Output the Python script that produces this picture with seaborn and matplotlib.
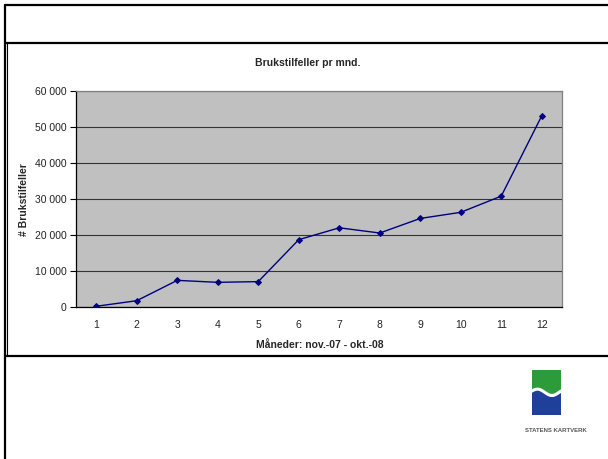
import matplotlib
matplotlib.use("Agg")
import matplotlib.pyplot as plt
import seaborn as sns
import numpy as np
import pandas as pd
from matplotlib.lines import Line2D
from matplotlib.patches import Rectangle, Polygon
from matplotlib.ticker import FuncFormatter, FixedLocator

# ---- data ----
months = [1, 2, 3, 4, 5, 6, 7, 8, 9, 10, 11, 12]
cases = [200, 1750, 7400, 6850, 7050, 18700, 22000, 20550, 24600, 26300, 30800, 53100]
title = "Brukstilfeller pr mnd."
xlabel = "Måneder: nov.-07 - okt.-08"
ylabel = "# Brukstilfeller"
logo_text = "STATENS KARTVERK"

sns.set_theme(style="white")
plt.rcParams['font.family'] = ['Liberation Sans', 'DejaVu Sans']

W, H = 608, 459
fig = plt.figure(figsize=(W / 100, H / 100), dpi=100)
fig.patch.set_facecolor("white")

def fx(px):
    return px / W

def fy(py):
    return 1 - py / H

ax = fig.add_axes([fx(76), fy(307), fx(562) - fx(76), fy(91) - fy(307)])
ax.set_facecolor("#c0c0c0")

df = pd.DataFrame({"month": months, "cases": cases})
sns.lineplot(data=df, x="month", y="cases", ax=ax, color="#000080", lw=1.0,
             marker="D", markersize=3, markeredgecolor="#000080", zorder=3)

ax.set_xlim(0.5, 12.5)
ax.set_ylim(0, 60000)
ax.set_yticks(np.arange(0, 60001, 10000))
ax.yaxis.set_major_formatter(FuncFormatter(lambda v, p: f"{int(v):,}".replace(",", " ")))
ax.set_xticks(months)
ax.set_xticklabels([str(m) for m in months])
ax.xaxis.set_minor_locator(FixedLocator(np.arange(0.5, 13, 1)))
ax.tick_params(axis="x", which="major", length=0, labelsize=7.5, pad=9, colors="black")
ax.tick_params(axis="x", which="minor", length=4, width=0.8, direction="out", color="black")
ax.tick_params(axis="y", which="major", length=4, width=0.8, direction="out", labelsize=7.5,
               pad=3, colors="black", left=True)
for lab in ax.get_xticklabels() + ax.get_yticklabels():
    lab.set_color("#222222")

ax.grid(axis="y", color="#333333", lw=0.8)
ax.grid(axis="x", visible=False)
ax.set_axisbelow(True)
for s in ["left", "bottom"]:
    ax.spines[s].set_color("black")
    ax.spines[s].set_linewidth(0.9)
for s in ["top", "right"]:
    ax.spines[s].set_color("#808080")
    ax.spines[s].set_linewidth(0.9)

ax.set_xlabel("")
ax.set_ylabel("")
fig.text(fx(308), fy(63), title, ha="center", va="center", fontsize=7.5, fontweight="bold")
fig.text(fx(320), fy(345), xlabel, ha="center", va="center", fontsize=7.5, fontweight="bold")
fig.text(fx(24), fy(200), ylabel, ha="center", va="center", fontsize=7.5, fontweight="bold",
         rotation=90)

# ---- frames ----
lw = 1.6
fig.add_artist(Line2D([fx(5), 1], [fy(5), fy(5)], color="black", lw=lw))
fig.add_artist(Line2D([fx(5), fx(5)], [fy(5), 0], color="black", lw=lw))
fig.add_artist(Line2D([fx(5), 1], [fy(43), fy(43)], color="black", lw=lw))
fig.add_artist(Line2D([fx(5), 1], [fy(356), fy(356)], color="black", lw=lw))
fig.add_artist(Line2D([fx(7), fx(7)], [fy(43), fy(356)], color="black", lw=0.8))

# ---- logo ----
lax = fig.add_axes([fx(532), fy(415), fx(561) - fx(532), fy(370) - fy(415)])
lax.set_xlim(0, 1)
lax.set_ylim(0, 1)
lax.axis("off")
lax.add_patch(Rectangle((0, 0.48), 1, 0.52, color="#2e9b3a"))
t = np.linspace(0, 1, 40)
wave = 0.46 + 0.07 * np.sin(t * 2 * np.pi + 0.4)
lax.add_patch(Polygon(np.column_stack([np.r_[t, 1, 0], np.r_[wave, 0, 0]]), closed=True,
                      color="#1f3f9a"))
lax.plot(t, wave + 0.045, color="white", lw=2.2)
fig.text(fx(556), fy(430), logo_text, ha="center", va="center", fontsize=4.3,
         color="#555555", fontweight="bold")

fig.savefig("out.png", dpi=100)
